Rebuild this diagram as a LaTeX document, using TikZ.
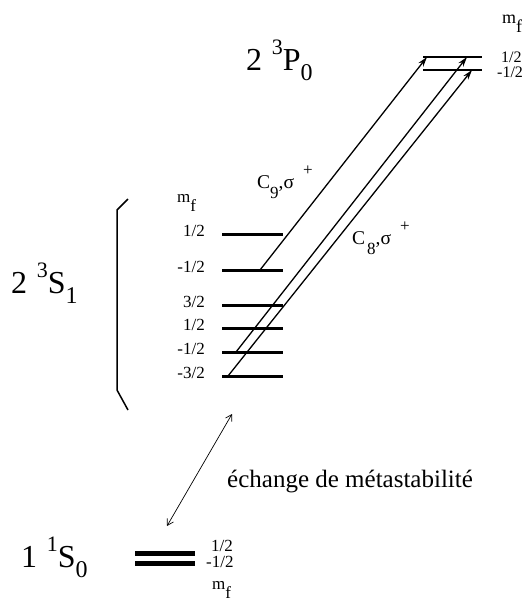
\documentclass[tikz,border=0pt]{standalone}
\usepackage{fontspec}
\setmainfont{Liberation Serif}
\usetikzlibrary{arrows.meta}
\newcommand\termlab[4]{#1\hspace{0.3em}\raisebox{0.47em}{\fontsize{22}{22}\selectfont #2}#3\raisebox{-0.33em}{\fontsize{24}{24}\selectfont #4}}
\newcommand\mflab{m\raisebox{-0.55em}{f}}
\begin{document}
\begin{tikzpicture}[x=1pt,y=-1pt,
  lvS/.style={line width=3pt},
  lvP/.style={line width=2.8pt},
  lvG/.style={line width=5pt},
  trans/.style={line width=1.3pt,-{Stealth[length=10pt,width=6pt]}},
  exch/.style={line width=0.7pt,{Straight Barb[length=6pt,width=7pt]}-{Straight Barb[length=6pt,width=7pt]}},
  brk/.style={line width=1.5pt},
  term/.style={font=\fontsize{32}{32}\selectfont, inner sep=0pt, anchor=base west},
  mlab/.style={font=\fontsize{17}{17}\selectfont, inner sep=0pt},
  plab/.style={font=\fontsize{16}{16}\selectfont, inner sep=0pt, anchor=base west},
  tlab/.style={font=\fontsize{19.5}{19.5}\selectfont, inner sep=0pt, anchor=base west},
  txt/.style={font=\fontsize{25}{25}\selectfont, inner sep=0pt, anchor=base west}]
\useasboundingbox (0,0) rectangle (529,606);

% term labels
\node[term] (tP) at (246,70) {\termlab{2}{3}{P}{0}};
\node[term] (tS) at (11,293) {\termlab{2}{3}{S}{1}};
\node[term] (tG) at (21,567) {\termlab{1}{1}{S}{0}};

% 2 3P0 levels
\coordinate (pAL) at (423,57); \coordinate (pAR) at (482,57);
\coordinate (pBL) at (423,70); \coordinate (pBR) at (482,70);
\draw[lvP] (pAL) -- (pAR);
\draw[lvP] (pBL) -- (pBR);
\node[plab, font=\fontsize{18}{18}\selectfont] (pmf) at (502,23) {\mflab};
\node[plab] (pA) at (501,62) {1/2};
\node[plab] (pB) at (497,77) {-1/2};

% 2 3S1 levels
\foreach \n/\y/\t in {sA/234/1\slash 2, sB/270/-1\slash 2, sC/305/3\slash 2, sD/328/1\slash 2, sE/352/-1\slash 2, sF/376/-3\slash 2}{
  \coordinate (\n L) at (222,\y);
  \coordinate (\n R) at (283,\y);
  \draw[lvS] (\n L) -- (\n R);
  \node[mlab, anchor=mid east] (\n lab) at (205,\y) {\t};
}
\node[mlab, anchor=base west] (smf) at (177,202) {\mflab};

% bracket
\coordinate (b1) at (128,199); \coordinate (b2) at (117,210);
\coordinate (b3) at (117,390); \coordinate (b4) at (128,410);
\draw[brk] (b1) -- (b2) -- (b3) -- (b4);

% 1 1S0 levels
\coordinate (gAL) at (135,553); \coordinate (gAR) at (195,553);
\coordinate (gBL) at (135,563); \coordinate (gBR) at (195,563);
\draw[lvG] (gAL) -- (gAR);
\draw[lvG] (gBL) -- (gBR);
\node[mlab, anchor=mid west] (gA) at (211,549) {1/2};
\node[mlab, anchor=mid west] (gB) at (206,565) {-1/2};
\node[mlab, anchor=base west] (gmf) at (212,589) {\mflab};

% transitions
\coordinate (c9s) at (260,270); \coordinate (c9e) at (427,57);
\coordinate (c8s) at (236,352); \coordinate (c8e) at (467,57);
\coordinate (c8ts) at (228,376); \coordinate (c8te) at (472,70);
\draw[trans] (c9s) -- (c9e);
\draw[trans] (c8s) -- (c8e);
\draw[trans] (c8ts) -- (c8te);

\node[tlab] (c9lab) at (257,188) {C\raisebox{-10pt}{\fontsize{17}{17}\selectfont 9},σ\hspace{9pt}\raisebox{13pt}{\fontsize{17}{17}\selectfont +}};
\node[tlab] (c8lab) at (352,244) {C\hspace{2pt}\raisebox{-10pt}{\fontsize{17}{17}\selectfont 8},σ\hspace{9pt}\raisebox{13pt}{\fontsize{17}{17}\selectfont +}};

% metastability exchange
\coordinate (eT) at (232,414); \coordinate (eB) at (167,526);
\draw[exch] (eT) -- (eB);
\node[txt] (etxt) at (227,487) {échange de métastabilité};
\end{tikzpicture}
\end{document}
